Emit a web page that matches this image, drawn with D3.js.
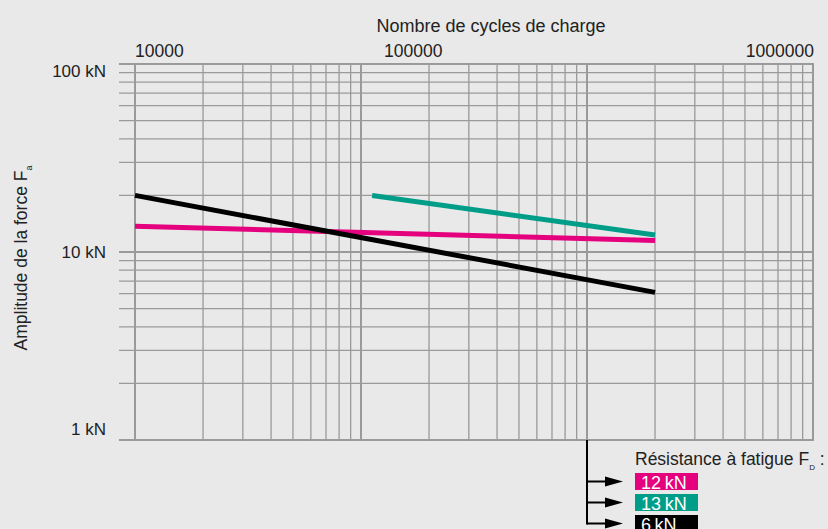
<!DOCTYPE html>
<html>
<head>
<meta charset="utf-8">
<script src="https://cdn.jsdelivr.net/npm/d3@7"></script>
<style>
  html, body { margin: 0; padding: 0; background: #e9e9e9; }
  svg { display: block; font-family: "Liberation Sans", Arial, sans-serif; }
</style>
</head>
<body>
<svg id="chart" width="828" height="529"></svg>
<script>
// cycles de charge (x) et amplitude en kN (y)
const cycles12 = [1e4, 2e6]
const force12 = [13.7, 11.5]
const cycles13 = [1.12e5, 2e6]
const force13 = [20, 12.3]
const cycles6 = [1e4, 2e6]
const force6 = [20, 6.1]

const legendLabels = ["12 kN", "13 kN", "6 kN"]
const legendColors = ["#e5007d", "#009e89", "#000000"]

const xTickLabels = ["10000", "100000", "1000000"]
const yTickValues = [100, 10, 1]
const yTickLabels = ["100 kN", "10 kN", "1 kN"]

const series = [
  {cycles: cycles12, force: force12, color: legendColors[0]},
  {cycles: cycles13, force: force13, color: legendColors[1]},
  {cycles: cycles6, force: force6, color: legendColors[2]}
]

const svg = d3.select("#chart")
const gridColor = "#9a9a9a"

const x = d3.scaleLog()
            .domain([1e4, 1e7])
            .range([135, 813])
const y = d3.scaleLog()
            .domain([1, 100])
            .range([440, 64])

// toutes les valeurs de grille (1,2,...9 x 10^n)
const xGrid = []
for (let e = 4; e < 7; e++) {
  for (let m = 1; m < 10; m++) xGrid.push(m * Math.pow(10, e))
}
xGrid.push(1e7)
const yGrid = []
for (let e = 0; e < 2; e++) {
  for (let m = 1; m < 10; m++) yGrid.push(m * Math.pow(10, e))
}
yGrid.push(100)

const isDecade = v => Math.abs(Math.log10(v) - Math.round(Math.log10(v))) < 1e-9

const grid = svg.append("g")

grid.selectAll("line.h")
    .data(yGrid)
    .enter()
    .append("line")
    .attr("x1", 119)
    .attr("x2", x(1e7) + 1)
    .attr("y1", d => y(d))
    .attr("y2", d => y(d))
    .attr("stroke", gridColor)
    .attr("stroke-width", d => isDecade(d) ? 2 : 1.3)

grid.selectAll("line.v")
    .data(xGrid)
    .enter()
    .append("line")
    .attr("x1", d => x(d))
    .attr("x2", d => x(d))
    .attr("y1", y(100) - 1)
    .attr("y2", y(1) + 1)
    .attr("stroke", gridColor)
    .attr("stroke-width", d => isDecade(d) ? 2 : 1.3)

// courbes
const line = d3.line()
               .x(d => x(d[0]))
               .y(d => y(d[1]))

svg.selectAll("path.serie")
   .data(series)
   .enter()
   .append("path")
   .attr("class", "serie")
   .attr("d", d => line(d3.zip(d.cycles, d.force)))
   .attr("fill", "none")
   .attr("stroke", d => d.color)
   .attr("stroke-width", 5)

// axe x : textes en haut
const xLabelPos = [
  {v: 1e4, anchor: "start", dx: 0},
  {v: 1e5, anchor: "start", dx: 23},
  {v: 1e7, anchor: "end", dx: 1}
]
svg.selectAll("text.xt")
   .data(xTickLabels)
   .enter()
   .append("text")
   .attr("x", (d, i) => x(xLabelPos[i].v) + xLabelPos[i].dx)
   .attr("y", 57)
   .attr("text-anchor", (d, i) => xLabelPos[i].anchor)
   .attr("font-size", 17.5)
   .attr("fill", "#222")
   .text(d => d)

svg.append("text")
   .attr("x", 491)
   .attr("y", 32)
   .attr("text-anchor", "middle")
   .attr("font-size", 18)
   .attr("fill", "#222")
   .text("Nombre de cycles de charge")

// axe y
const yOffset = [13, 6, -5]
svg.selectAll("text.yt")
   .data(yTickLabels)
   .enter()
   .append("text")
   .attr("x", 106)
   .attr("y", (d, i) => y(yTickValues[i]) + yOffset[i])
   .attr("text-anchor", "end")
   .attr("font-size", 17)
   .attr("fill", "#222")
   .text(d => d)

const yTitle = svg.append("text")
   .attr("transform", "translate(27,258) rotate(-90)")
   .attr("text-anchor", "middle")
   .attr("font-size", 17.5)
   .attr("fill", "#222")
yTitle.append("tspan").text("Amplitude de la force F")
yTitle.append("tspan").attr("font-size", 9).attr("dy", 5).text("a")

// légende
const legX = 635
const legY0 = 473
const legStep = 21
const legH = 17
const arrowX = x(1e6)

svg.append("line")
   .attr("x1", arrowX)
   .attr("x2", arrowX)
   .attr("y1", y(1))
   .attr("y2", legY0 + 2 * legStep + legH / 2 + 1)
   .attr("stroke", "#000")
   .attr("stroke-width", 2)

const leg = svg.selectAll("g.leg")
   .data(legendLabels)
   .enter()
   .append("g")
   .attr("transform", (d, i) => `translate(0, ${legY0 + i * legStep})`)

leg.append("line")
   .attr("x1", arrowX)
   .attr("x2", 606)
   .attr("y1", legH / 2)
   .attr("y2", legH / 2)
   .attr("stroke", "#000")
   .attr("stroke-width", 2)

leg.append("path")
   .attr("d", `M605,${legH / 2 - 5}L623,${legH / 2}L605,${legH / 2 + 5}Z`)
   .attr("fill", "#000")

leg.append("rect")
   .attr("x", legX)
   .attr("y", 0)
   .attr("width", 63)
   .attr("height", legH)
   .attr("fill", (d, i) => legendColors[i])

leg.append("text")
   .attr("x", legX + 6)
   .attr("y", legH - 1.5)
   .attr("font-size", 18)
   .attr("fill", "#fff")
   .text(d => d.replace(" ", "\u2009"))

const legTitle = svg.append("text")
   .attr("x", legX)
   .attr("y", 465)
   .attr("font-size", 17.5)
   .attr("fill", "#222")
legTitle.append("tspan").text("Résistance à fatigue F")
legTitle.append("tspan").attr("font-size", 8).attr("dy", 5).text("D")
legTitle.append("tspan").attr("dy", -5).text(" :")
</script>
</body>
</html>
